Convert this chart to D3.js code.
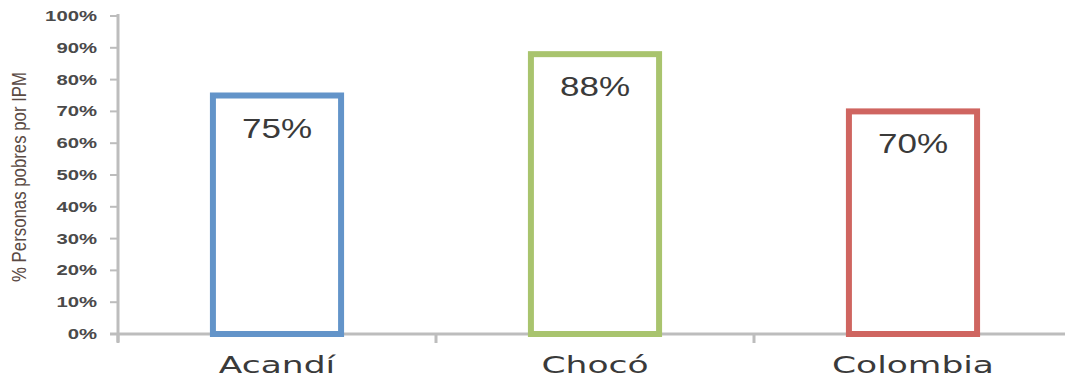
<!DOCTYPE html>
<html>
<head>
<meta charset="utf-8">
<script src="https://cdn.jsdelivr.net/npm/d3@7"></script>
<style>
  html, body { margin: 0; padding: 0; background: #fff; }
  svg { display: block; }
</style>
</head>
<body>
<svg id="chart" width="1065" height="381"></svg>
<script>
// data
const categories = ['Acandí', 'Chocó', 'Colombia'];
const values = [0.75, 0.88, 0.70];
const barColors = ['#6394c9', '#a9c46e', '#cf6560'];
const yTicks = [0, 0.1, 0.2, 0.3, 0.4, 0.5, 0.6, 0.7, 0.8, 0.9, 1.0];
const yTitle = '% Personas pobres por IPM';

const width = 1065, height = 381;
const margin = { top: 16, left: 118, right: -7, bottom: 47 };
const axisColor = '#bdbdbd';
const textColor = '#3a3a3a';

const svg = d3.select('#chart');

const x = d3.scaleBand()
    .domain(categories)
    .range([margin.left, width - margin.right])
    .paddingInner(0.597)
    .paddingOuter(0.2985);

const y = d3.scaleLinear()
    .domain([0, 1])
    .range([height - margin.bottom, margin.top]);

// stretched text helper (the original is squeezed wider than tall)
function stretchedText(g, px, py, sx, txt) {
    return g.append('g')
        .attr('transform', `translate(${px},${py}) scale(${sx},1)`)
        .append('text')
        .text(txt);
}

// y axis
const gY = svg.append('g');
gY.append('line')
    .attr('x1', margin.left).attr('x2', margin.left)
    .attr('y1', y(1) - 2).attr('y2', y(0) + 8)
    .attr('stroke', axisColor).attr('stroke-width', 3);
yTicks.forEach(t => {
    gY.append('line')
        .attr('x1', margin.left - 8).attr('x2', margin.left)
        .attr('y1', y(t)).attr('y2', y(t))
        .attr('stroke', axisColor).attr('stroke-width', 2);
    stretchedText(gY, 97, y(t) + 5, 1.45, d3.format('.0%')(t))
        .attr('text-anchor', 'end')
        .attr('font-family', 'Liberation Sans, Arial, sans-serif')
        .attr('font-size', 14)
        .attr('font-weight', 'bold')
        .attr('fill', '#4a4a4a');
});

// y title
svg.append('g')
    .attr('transform', `translate(26,${(y(0) + y(1)) / 2 + 2}) scale(1.5,1) rotate(-90)`)
    .append('text')
    .attr('text-anchor', 'middle')
    .attr('font-family', 'Liberation Sans, Arial, sans-serif')
    .attr('font-size', 13)
    .attr('fill', '#5a4a44')
    .attr('textLength', 210)
    .attr('lengthAdjust', 'spacingAndGlyphs')
    .text(yTitle);

// x axis
const gX = svg.append('g');
gX.append('line')
    .attr('x1', margin.left - 8).attr('x2', width)
    .attr('y1', y(0)).attr('y2', y(0))
    .attr('stroke', axisColor).attr('stroke-width', 3);
const step = x.step();
[0, 1, 2].forEach(i => {
    const tx = margin.left + i * step;
    gX.append('line')
        .attr('x1', tx).attr('x2', tx)
        .attr('y1', y(0)).attr('y2', y(0) + 9)
        .attr('stroke', axisColor).attr('stroke-width', 3);
});

// bars
const gBars = svg.append('g');
categories.forEach((c, i) => {
    gBars.append('rect')
        .attr('x', x(c))
        .attr('y', y(values[i]))
        .attr('width', x.bandwidth())
        .attr('height', y(0) - y(values[i]))
        .attr('fill', '#fff')
        .attr('stroke', barColors[i])
        .attr('stroke-width', 6);
    stretchedText(gBars, x(c) + x.bandwidth() / 2, y(values[i]) + 42, 1.25, d3.format('.0%')(values[i]))
        .attr('text-anchor', 'middle')
        .attr('font-family', 'Liberation Sans, Arial, sans-serif')
        .attr('font-size', 28)
        .attr('fill', textColor);
    stretchedText(gBars, x(c) + x.bandwidth() / 2, 373, 1.5, c)
        .attr('text-anchor', 'middle')
        .attr('font-family', 'DejaVu Sans, sans-serif')
        .attr('font-size', 23)
        .attr('fill', textColor);
});
</script>
</body>
</html>
